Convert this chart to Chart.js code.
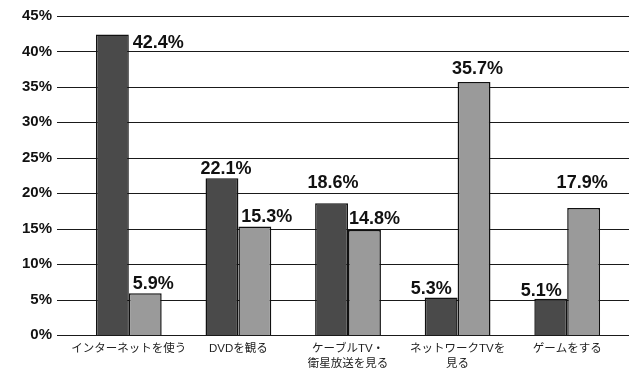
<!DOCTYPE html>
<html>
<head>
<meta charset="utf-8">
<script src="https://cdn.jsdelivr.net/npm/chart.js"></script>
<style>
  html, body { margin: 0; padding: 0; background: #fff; overflow: hidden; }
  #wrap { width: 629px; height: 369px; }
</style>
</head>
<body>
<div id="wrap"><canvas id="myChart" width="629" height="369"></canvas></div>
<script>
  const categories = [
    'インターネットを使う',
    'DVDを観る',
    ['ケーブルTV・', '衛星放送を見る'],
    ['ネットワークTVを', '見る'],
    'ゲームをする',
  ];
  const series1 = [42.4, 22.1, 18.6, 5.3, 5.1];
  const series2 = [5.9, 15.3, 14.8, 35.7, 17.9];
  const yTicks = [0, 5, 10, 15, 20, 25, 30, 35, 40, 45];

  // label offsets from bar center / bar top, per dataset
  const labelOffsets = [
    [[46, 14], [4, -4], [1.5, -15], [-10, -3], [-9.5, -3]],
    [[8, -4], [12, -5], [10, -6], [3.5, -8], [-1.5, -20]],
  ];

  const gridPlugin = {
    id: 'wideGrid',
    beforeDatasetsDraw(chart) {
      const y = chart.scales.y;
      const ctx = chart.ctx;
      ctx.save();
      ctx.strokeStyle = '#1a1a1a';
      ctx.lineWidth = 1;
      yTicks.forEach(function (t) {
        const py = Math.round(y.getPixelForValue(t)) + 0.5;
        ctx.beginPath();
        ctx.moveTo(57, py);
        ctx.lineTo(629, py);
        ctx.stroke();
      });
      ctx.restore();
    },
  };

  const labelPlugin = {
    id: 'valueLabels',
    afterDatasetsDraw(chart) {
      const ctx = chart.ctx;
      ctx.save();
      ctx.font = 'bold 18px "Liberation Sans", Arial, sans-serif';
      ctx.fillStyle = '#111';
      ctx.textAlign = 'center';
      ctx.textBaseline = 'alphabetic';
      chart.data.datasets.forEach(function (ds, di) {
        const meta = chart.getDatasetMeta(di);
        meta.data.forEach(function (bar, i) {
          const off = labelOffsets[di][i];
          ctx.fillText(ds.data[i].toFixed(1) + '%', bar.x + off[0], bar.y + off[1]);
        });
      });
      ctx.restore();
    },
  };

  const data = {
    labels: categories,
    datasets: [
      {
        label: '系列1',
        data: series1,
        backgroundColor: '#4a4a4a',
        borderColor: '#111',
        borderWidth: 1.5,
      },
      {
        label: '系列2',
        data: series2,
        backgroundColor: '#9a9a9a',
        borderColor: '#111',
        borderWidth: 1.5,
      },
    ],
  };

  const config = {
    type: 'bar',
    data: data,
    plugins: [gridPlugin, labelPlugin],
    options: {
      responsive: false,
      animation: false,
      categoryPercentage: 0.6,
      barPercentage: 1.0,
      layout: {
        padding: { top: 16, right: 7, left: 0, bottom: 0 },
      },
      plugins: {
        legend: { display: false },
        title: { display: false },
        tooltip: { enabled: false },
      },
      scales: {
        x: {
          grid: { display: false, drawTicks: false },
          border: { display: false },
          ticks: {
            color: '#222',
            padding: 6,
            maxRotation: 0,
            autoSkip: false,
            font: { family: '"Liberation Sans", "Noto Sans CJK JP", sans-serif', size: 11.5, lineHeight: 1.3 },
          },
          afterFit: function (s) {
            s.height = 34;
            s.paddingLeft = 0;
            s.paddingRight = 0;
          },
        },
        y: {
          min: 0,
          max: 45,
          grid: { display: false, drawTicks: false },
          border: { display: false },
          afterBuildTicks: function (s) {
            s.ticks = yTicks.map(function (v) { return { value: v }; });
          },
          ticks: {
            color: '#111',
            padding: 22,
            font: { family: '"Liberation Sans", Arial, sans-serif', size: 15, weight: 'bold' },
            callback: function (v) { return v + '%'; },
          },
          afterFit: function (s) {
            s.width = 74;
            s.paddingTop = 0;
            s.paddingBottom = 0;
          },
        },
      },
    },
  };

  var myChart = new Chart(document.getElementById('myChart'), config);
</script>
</body>
</html>
